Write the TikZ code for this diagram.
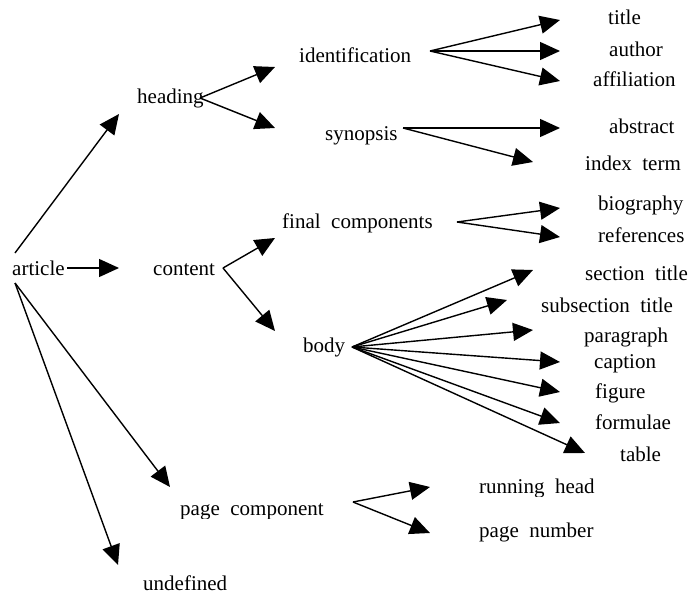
\documentclass[tikz,border=0pt]{standalone}
\usepackage{fontspec}
\setmainfont{Liberation Serif}
\usetikzlibrary{arrows.meta}
\begin{document}
\begin{tikzpicture}[x=1pt,y=-1pt,
  lbl/.style={anchor=base west,inner sep=0pt,font=\fontsize{21}{24}\selectfont},
  link/.style={line width=1.4pt,-{Triangle[length=20pt,width=18pt]}}]
\useasboundingbox (0,0) rectangle (689,594);

% labels
\node[lbl] (article) at (12,275) {article};
\node[lbl] (heading) at (137,103) {heading};
\node[lbl] (content) at (153,275) {content};
\node[lbl] (undef) at (143,590) {undefined};
\node[lbl] (ident) at (299,63) {identification};
\node[lbl] (synop) at (325,140) {synopsis};
\node[lbl] (final) at (282,228) {final~~components};
\node[lbl] (body) at (303,352) {body};
\node[lbl] (title) at (608,25) {title};
\node[lbl] (author) at (609,57) {author};
\node[lbl] (affil) at (593,87) {affiliation};
\node[lbl] (abstract) at (609,133) {abstract};
\node[lbl] (index) at (585,170) {index~~term};
\node[lbl] (bio) at (598,210) {biography};
\node[lbl] (refs) at (598,242) {references};
\node[lbl] (sect) at (585,280) {section~~title};
\node[lbl] (subsect) at (541,312) {subsection~~title};
\node[lbl] (caption) at (594,368) {caption};
\node[lbl] (figure) at (595,398) {figure};
\node[lbl] (formulae) at (595,429) {formulae};
\node[lbl] (table) at (620,461) {table};

% labels whose text boxes cut off the descenders
\begin{scope}
  \clip (570,320) rectangle (689,346);
  \node[lbl] (para) at (584,342) {paragraph};
\end{scope}
\begin{scope}
  \clip (170,490) rectangle (340,518);
  \node[lbl] (pagecomp) at (180,515) {page~~component};
\end{scope}
\begin{scope}
  \clip (470,470) rectangle (610,496);
  \node[lbl] (running) at (479,493) {running~~head};
\end{scope}
\begin{scope}
  \clip (470,515) rectangle (610,541);
  \node[lbl] (pagenum) at (479,537) {page~~number};
\end{scope}

% branch points
\coordinate (article-up) at (15,253);
\coordinate (article-right) at (67,268);
\coordinate (article-down) at (15,283);
\coordinate (heading-out) at (200,98);
\coordinate (content-out) at (223,268);
\coordinate (ident-out) at (430,51);
\coordinate (synop-out) at (403,128);
\coordinate (final-out) at (457,222);
\coordinate (body-out) at (352,347);
\coordinate (pagecomp-out) at (353,502);

% arrow ends
\coordinate (to-heading) at (119,114);
\coordinate (to-content) at (119,268);
\coordinate (to-pagecomp) at (170,487);
\coordinate (to-undef) at (118,565);
\coordinate (to-ident) at (275,67);
\coordinate (to-synop) at (275,128);
\coordinate (to-final) at (275,238);
\coordinate (to-body) at (275,331);
\coordinate (to-title) at (560,20);
\coordinate (to-author) at (560,51);
\coordinate (to-affil) at (560,81);
\coordinate (to-abstract) at (560,128);
\coordinate (to-index) at (533,162);
\coordinate (to-bio) at (560,208);
\coordinate (to-refs) at (560,237);
\coordinate (to-sect) at (533,270);
\coordinate (to-subsect) at (507,300);
\coordinate (to-para) at (533,330);
\coordinate (to-caption) at (560,362);
\coordinate (to-figure) at (560,392);
\coordinate (to-formulae) at (560,423);
\coordinate (to-table) at (585,453);
\coordinate (to-running) at (430,487);
\coordinate (to-pagenum) at (430,533);

% connectors
\draw[link] (article-up) -- (to-heading);
\draw[link] (article-right) -- (to-content);
\draw[link] (article-down) -- (to-pagecomp);
\draw[link] (article-down) -- (to-undef);
\draw[link] (heading-out) -- (to-ident);
\draw[link] (heading-out) -- (to-synop);
\draw[link] (content-out) -- (to-final);
\draw[link] (content-out) -- (to-body);
\draw[link] (ident-out) -- (to-title);
\draw[link] (ident-out) -- (to-author);
\draw[link] (ident-out) -- (to-affil);
\draw[link] (synop-out) -- (to-abstract);
\draw[link] (synop-out) -- (to-index);
\draw[link] (final-out) -- (to-bio);
\draw[link] (final-out) -- (to-refs);
\draw[link] (body-out) -- (to-sect);
\draw[link] (body-out) -- (to-subsect);
\draw[link] (body-out) -- (to-para);
\draw[link] (body-out) -- (to-caption);
\draw[link] (body-out) -- (to-figure);
\draw[link] (body-out) -- (to-formulae);
\draw[link] (body-out) -- (to-table);
\draw[link] (pagecomp-out) -- (to-running);
\draw[link] (pagecomp-out) -- (to-pagenum);
\end{tikzpicture}
\end{document}
